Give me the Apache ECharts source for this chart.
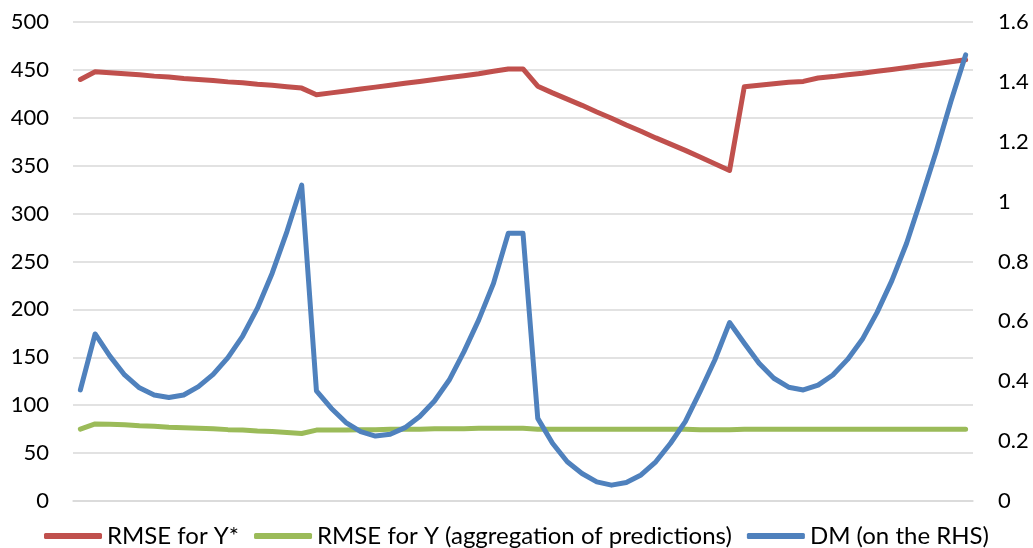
<!DOCTYPE html>
<html>
<head>
<meta charset="utf-8">
<script src="https://cdn.jsdelivr.net/npm/echarts@6/dist/echarts.min.js"></script>
<style>
html,body{margin:0;padding:0;background:#fff;}
#chart{width:1033px;height:548px;}
</style>
</head>
<body>
<div id="chart"></div>
<script>
const categories = Array.from({length: 61}, (_, i) => String(i + 1));

const rmseYStar = [440, 448, 447, 446, 445, 443.5, 442.5, 441, 440, 439, 437.5, 436.5, 435, 434, 432.5, 431,
  424, 426, 428, 430, 432, 434, 436, 438, 440, 442, 444, 446, 448.5, 451, 451,
  433, 426, 419.5, 413, 406, 399.5, 392.5, 386, 379, 372.5, 366, 359, 352, 345,
  432.5, 434, 435.5, 437, 438, 441.5, 443, 445, 446.5, 448.5, 450.5, 452.5, 454.5, 456.5, 458.5, 460.5];

const rmseY = [75, 80.5, 80, 79.5, 78.5, 78, 77, 76.5, 76, 75.5, 74.5, 74, 73, 72.5, 71.5, 70.5,
  74, 74, 74, 74.5, 74.5, 75, 75, 75, 75.5, 75.5, 75.5, 76, 76, 76, 76,
  75, 75, 75, 75, 75, 75, 75, 75, 75, 75, 75, 74.5, 74.5, 74.5,
  75, 75, 75, 75, 75, 75, 75, 75, 75, 75, 75, 75, 75, 75, 75, 75];

const dm = [0.371, 0.558, 0.484, 0.421, 0.378, 0.354, 0.346, 0.354, 0.382, 0.423, 0.479, 0.551, 0.644, 0.761, 0.9, 1.055,
  0.368, 0.31, 0.262, 0.232, 0.217, 0.223, 0.245, 0.282, 0.334, 0.404, 0.499, 0.605, 0.727, 0.894, 0.894,
  0.276, 0.193, 0.131, 0.092, 0.064, 0.053, 0.062, 0.087, 0.131, 0.193, 0.265, 0.365, 0.471, 0.596,
  0.527, 0.46, 0.41, 0.38, 0.371, 0.387, 0.421, 0.473, 0.54, 0.63, 0.736, 0.861, 1.011, 1.167, 1.334, 1.49];

const seriesNames = ['RMSE for Y*', 'RMSE for Y (aggregation of predictions)', 'DM (on the RHS)'];
const colors = ['#C0504D', '#9BBB59', '#4F81BD'];

const FONT = 'Lato, "Open Sans", sans-serif';
const chart = echarts.init(document.getElementById('chart'), null, {renderer: 'canvas'});

function lineSeries(name, data, color, axisIdx) {
  return {
    name: name, type: 'line', data: data, yAxisIndex: axisIdx,
    showSymbol: false, symbol: 'none', smooth: false,
    lineStyle: {color: color, width: 5, cap: 'round', join: 'round'},
    itemStyle: {color: color},
    emphasis: {disabled: true},
    animation: false
  };
}

chart.setOption({
  animation: false,
  color: colors,
  grid: {left: 73, right: 60, top: 22, bottom: 47, containLabel: false},
  legend: {
    top: 519, left: 'center',
    itemWidth: 58, itemHeight: 6, itemGap: 15,
    icon: 'roundRect',
    textStyle: {fontFamily: FONT, fontSize: 24, color: '#000'},
    data: seriesNames.map((n, i) => ({name: n, itemStyle: {color: colors[i]}}))
  },
  xAxis: {
    type: 'category', data: categories, boundaryGap: true,
    axisLine: {show: true, lineStyle: {color: '#d9d9d9', width: 1.5}},
    axisTick: {show: false}, axisLabel: {show: false}, splitLine: {show: false}
  },
  yAxis: [
    {
      type: 'value', min: 0, max: 500, interval: 50,
      axisLine: {show: false}, axisTick: {show: false},
      axisLabel: {fontFamily: FONT, fontSize: 22, color: '#000', margin: 24},
      splitLine: {show: true, lineStyle: {color: '#d9d9d9', width: 1.5}}
    },
    {
      type: 'value', min: 0, max: 1.6, interval: 0.2, position: 'right',
      axisLine: {show: false}, axisTick: {show: false},
      axisLabel: {fontFamily: FONT, fontSize: 22, color: '#000', margin: 25,
        formatter: v => String(Math.round(v * 10) / 10)},
      splitLine: {show: false}
    }
  ],
  series: [
    lineSeries(seriesNames[0], rmseYStar, colors[0], 0),
    lineSeries(seriesNames[1], rmseY, colors[1], 0),
    lineSeries(seriesNames[2], dm, colors[2], 1)
  ]
});
</script>
</body>
</html>
